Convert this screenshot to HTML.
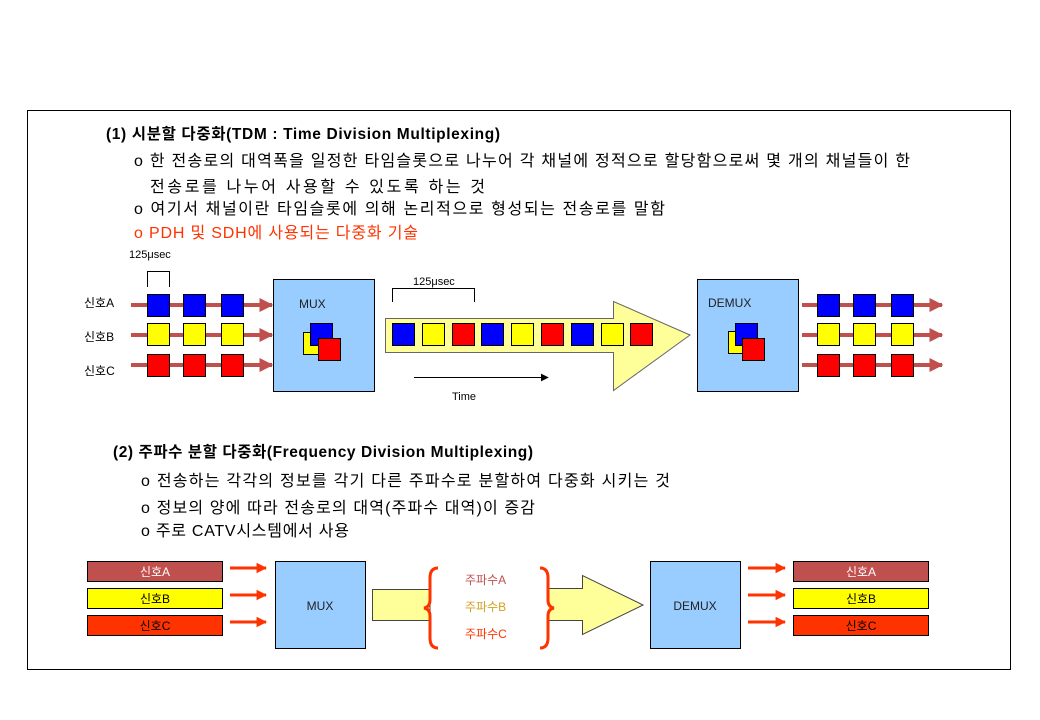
<!DOCTYPE html>
<html><head><meta charset="utf-8"><style>
html,body{margin:0;padding:0;background:#fff}
svg{display:block}
text{font-family:"Liberation Sans","Noto Sans CJK KR",sans-serif}
</style></head><body>
<svg width="1040" height="720" viewBox="0 0 1040 720" xmlns="http://www.w3.org/2000/svg">
<defs>
<marker id="ar" viewBox="0 0 10 10" refX="9" refY="5" markerWidth="3.5" markerHeight="3.5" orient="auto"><path d="M0,0L10,5L0,10z" fill="#c0504d"/></marker>
<marker id="ao" viewBox="0 0 10 10" refX="9" refY="5" markerWidth="3.5" markerHeight="3.5" orient="auto"><path d="M0,0L10,5L0,10z" fill="#ff3300"/></marker>
<marker id="ab" viewBox="0 0 10 10" refX="9" refY="5" markerWidth="8" markerHeight="8" orient="auto"><path d="M0,0L10,5L0,10z" fill="#000"/></marker>
</defs>
<rect x="27.5" y="110.5" width="983" height="559" fill="none" stroke="#000"/>
<g font-size="16">
<text x="106" y="139" font-weight="bold" font-size="15.5" textLength="394">(1) 시분할 다중화(TDM : Time Division Multiplexing)</text>
<text x="134" y="166" textLength="776">o 한 전송로의 대역폭을 일정한 타임슬롯으로 나누어 각 채널에 정적으로 할당함으로써 몇 개의 채널들이 한</text>
<text x="150" y="192" textLength="335">전송로를 나누어 사용할 수 있도록 하는 것</text>
<text x="134" y="214" textLength="531">o 여기서 채널이란 타임슬롯에 의해 논리적으로 형성되는 전송로를 말함</text>
<text x="134" y="238" fill="#ff3300" textLength="284">o PDH 및 SDH에 사용되는 다중화 기술</text>
<text x="113" y="457" font-weight="bold" font-size="15.5" textLength="420">(2) 주파수 분할 다중화(Frequency Division Multiplexing)</text>
<text x="141" y="486" textLength="529">o 전송하는 각각의 정보를 각기 다른 주파수로 분할하여 다중화 시키는 것</text>
<text x="141" y="513" textLength="394">o 정보의 양에 따라 전송로의 대역(주파수 대역)이 증감</text>
<text x="141" y="536" textLength="208">o 주로 CATV시스템에서 사용</text>
</g>
<g font-size="11">
<text x="129" y="258">125μsec</text>
<text x="413" y="285">125μsec</text>
<text x="452" y="400">Time</text>
</g>
<path d="M147.5,287V271.5H169.5V287" fill="none" stroke="#000"/>
<path d="M392.5,302V288.5H474.5V302" fill="none" stroke="#000"/>
<line x1="414" y1="377.5" x2="548" y2="377.5" stroke="#000" marker-end="url(#ab)"/>
<g font-size="12">
<text x="84" y="307">신호A</text><text x="84" y="341">신호B</text><text x="84" y="375">신호C</text>
</g>
<g stroke="#c0504d" stroke-width="4" marker-end="url(#ar)">
<line x1="131" y1="305" x2="272" y2="305"/><line x1="131" y1="335" x2="272" y2="335"/><line x1="131" y1="365" x2="272" y2="365"/>
<line x1="802" y1="305" x2="942" y2="305"/><line x1="802" y1="335" x2="942" y2="335"/><line x1="802" y1="365" x2="942" y2="365"/>
</g>
<g stroke="#000" stroke-width="1">
<g fill="#0000ff"><rect x="147.5" y="294.5" width="22" height="22"/><rect x="183.5" y="294.5" width="22" height="22"/><rect x="221.5" y="294.5" width="22" height="22"/>
<rect x="817.5" y="294.5" width="22" height="22"/><rect x="853.5" y="294.5" width="22" height="22"/><rect x="891.5" y="294.5" width="22" height="22"/></g>
<g fill="#ffff00"><rect x="147.5" y="323.5" width="22" height="22"/><rect x="183.5" y="323.5" width="22" height="22"/><rect x="221.5" y="323.5" width="22" height="22"/>
<rect x="817.5" y="323.5" width="22" height="22"/><rect x="853.5" y="323.5" width="22" height="22"/><rect x="891.5" y="323.5" width="22" height="22"/></g>
<g fill="#ff0000"><rect x="147.5" y="354.5" width="22" height="22"/><rect x="183.5" y="354.5" width="22" height="22"/><rect x="221.5" y="354.5" width="22" height="22"/>
<rect x="817.5" y="354.5" width="22" height="22"/><rect x="853.5" y="354.5" width="22" height="22"/><rect x="891.5" y="354.5" width="22" height="22"/></g>
<rect x="273.5" y="279.5" width="101" height="112" fill="#99ccff"/>
<rect x="303.5" y="332.5" width="22" height="22" fill="#ffff00"/><rect x="310.5" y="323.5" width="22" height="22" fill="#0000ff"/><rect x="318.5" y="338.5" width="22" height="22" fill="#ff0000"/>
<rect x="697.5" y="279.5" width="101" height="112" fill="#99ccff"/>
<rect x="728.5" y="331.5" width="22" height="22" fill="#ffff00"/><rect x="735.5" y="323.5" width="22" height="22" fill="#0000ff"/><rect x="742.5" y="338.5" width="22" height="22" fill="#ff0000"/>
<path d="M385.5,318.5H613.5V301.5L690,335L613.5,390.5V352.5H385.5z" fill="#ffff99" stroke="#666"/>
<rect x="392.5" y="323.5" width="22" height="22" fill="#0000ff"/><rect x="422.5" y="323.5" width="22" height="22" fill="#ffff00"/><rect x="452.5" y="323.5" width="22" height="22" fill="#ff0000"/>
<rect x="481.5" y="323.5" width="22" height="22" fill="#0000ff"/><rect x="511.5" y="323.5" width="22" height="22" fill="#ffff00"/><rect x="541.5" y="323.5" width="22" height="22" fill="#ff0000"/>
<rect x="571.5" y="323.5" width="22" height="22" fill="#0000ff"/><rect x="601.5" y="323.5" width="22" height="22" fill="#ffff00"/><rect x="630.5" y="323.5" width="22" height="22" fill="#ff0000"/>
</g>
<g font-size="12" fill="#222"><text x="299" y="308">MUX</text><text x="708" y="307">DEMUX</text></g>
<g stroke="#000">
<rect x="87.5" y="561.5" width="135" height="20" fill="#c0504d"/>
<rect x="87.5" y="588.5" width="135" height="20" fill="#ffff00"/>
<rect x="87.5" y="615.5" width="135" height="20" fill="#ff3300"/>
<rect x="793.5" y="561.5" width="135" height="20" fill="#c0504d"/>
<rect x="793.5" y="588.5" width="135" height="20" fill="#ffff00"/>
<rect x="793.5" y="615.5" width="135" height="20" fill="#ff3300"/>
<rect x="275.5" y="561.5" width="90" height="87" fill="#99ccff"/>
<rect x="650.5" y="561.5" width="90" height="87" fill="#99ccff"/>
<path d="M372.5,589.5H430V620.5H372.5z" fill="#ffff99" stroke="#444"/>
<path d="M548,588.5H582.5V575.5L643,605L582.5,634.5V620.5H548" fill="#ffff99" stroke="#444"/>
</g>
<g font-size="12" text-anchor="middle">
<text x="155" y="576" fill="#fff">신호A</text><text x="155" y="603">신호B</text><text x="155" y="630">신호C</text>
<text x="861" y="576" fill="#fff">신호A</text><text x="861" y="603">신호B</text><text x="861" y="630">신호C</text>
<text x="320" y="610" fill="#222">MUX</text><text x="695" y="610" fill="#222">DEMUX</text>
</g>
<g font-size="12"><text x="465" y="584" fill="#c0504d">주파수A</text><text x="465" y="611" fill="#d4a020">주파수B</text><text x="465" y="638" fill="#ff3300">주파수C</text></g>
<g fill="none" stroke="#ff3300" stroke-width="3">
<path d="M438,568Q430,568 430,578V600Q430,607 424,608Q430,609 430,616V638Q430,648 438,648"/>
<path d="M540,568Q548,568 548,578V600Q548,607 554,608Q548,609 548,616V638Q548,648 540,648"/>
</g>
<g stroke="#ff3300" stroke-width="3" marker-end="url(#ao)">
<line x1="230" y1="568" x2="266" y2="568"/><line x1="230" y1="595" x2="266" y2="595"/><line x1="230" y1="622" x2="266" y2="622"/>
<line x1="748" y1="568" x2="785" y2="568"/><line x1="748" y1="595" x2="785" y2="595"/><line x1="748" y1="622" x2="785" y2="622"/>
</g>
</svg>
</body></html>
